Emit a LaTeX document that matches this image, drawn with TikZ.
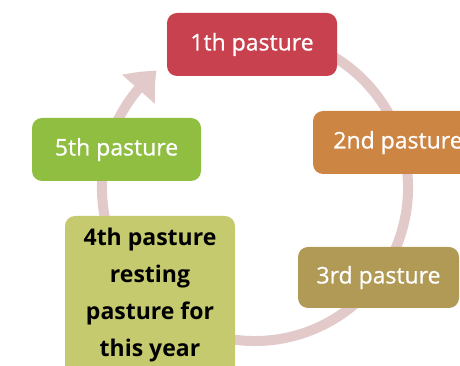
\documentclass[tikz,border=0pt]{standalone}
\usepackage{fontspec}
\setmainfont{Open Sans}
\newfontfamily\semib{Open Sans}[FakeBold=0.7]
\usetikzlibrary{arrows.meta,bending,calc}
\definecolor{c1}{HTML}{C8414F}
\definecolor{c2}{HTML}{CD8543}
\definecolor{c3}{HTML}{B19A55}
\definecolor{c4}{HTML}{C6CA6E}
\definecolor{c5}{HTML}{8FBE41}
\definecolor{ringc}{HTML}{E3CACA}
\begin{document}
\begin{tikzpicture}[x=1pt,y=1pt,
  box/.style={rounded corners=10pt, minimum width=170pt, minimum height=63pt,
    inner sep=0pt, text=white, font=\semib\fontsize{23}{27}\selectfont},
  ring/.style={line width=10pt, draw=ringc}]
\useasboundingbox (0,0) rectangle (460,366);
\coordinate (c) at (255,178);
\coordinate (a0) at ($(c)+(70:153)$);
\draw[ring, -{Triangle[length=26pt,width=42pt,bend]}] (a0) arc[start angle=70, end angle=-230, radius=153];
\node[box, fill=c1] (p1) at (252,321.5) {1th pasture};
\node[box, fill=c2] (p2) at (398,223.5) {2nd pasture};
\node[box, fill=c3, minimum width=161pt, minimum height=61pt] (p3) at (378.5,88.5) {3rd pasture};
\node[box, fill=c4, minimum height=159pt, text=black, align=center,
  font=\rmfamily\bfseries\fontsize{23}{37}\selectfont] (p4) at (150,70.5) {4th pasture\\resting\\pasture for\\this year};
\node[box, fill=c5, minimum width=169pt] (p5) at (116.5,216.5) {5th pasture};
\end{tikzpicture}
\end{document}
